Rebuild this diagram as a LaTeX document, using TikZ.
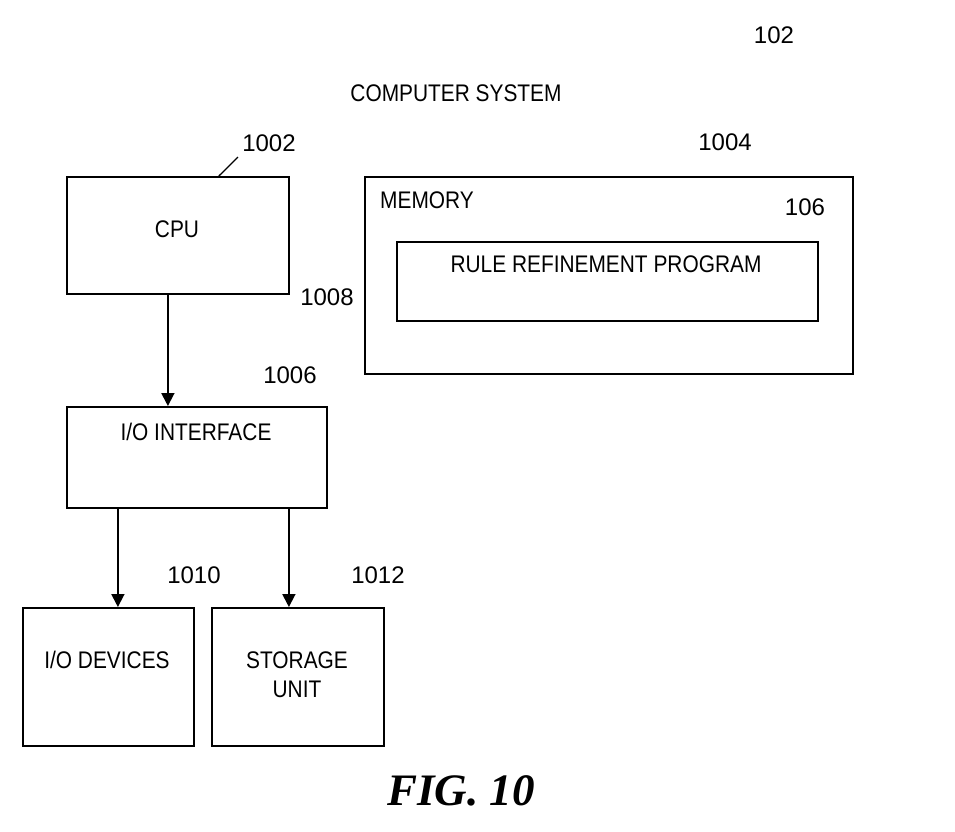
\documentclass[tikz,border=0pt]{standalone}
\usepackage{fontspec}
\setmainfont{Liberation Sans}[FakeStretch=0.87]
\newfontfamily\numfont{Liberation Sans}
\newfontfamily\figfont{Liberation Serif}
\usetikzlibrary{arrows.meta}
\begin{document}
\begin{tikzpicture}[x=1pt,y=-1pt,
  box/.style={draw, line width=1.8pt, rectangle, inner sep=0pt, anchor=north west},
  txt/.style={inner sep=0pt, anchor=base, font=\fontsize{24}{29}\selectfont},
  num/.style={inner sep=0pt, anchor=base, font=\numfont\fontsize{24}{29}\selectfont},
  arr/.style={line width=1.8pt, -{Triangle[length=13pt,width=13pt]}},
  lead/.style={line width=1.3pt}]
\useasboundingbox[fill=white] (0,0) rectangle (955,831);
% boxes
\node[box, minimum width=222pt, minimum height=117pt] (cpu) at (66,176) {};
\node[box, minimum width=488pt, minimum height=197pt] (mem) at (364,176) {};
\node[box, minimum width=421pt, minimum height=79pt] (rrp) at (396,241) {};
\node[box, minimum width=260pt, minimum height=101pt] (iof) at (66,406) {};
\node[box, minimum width=171pt, minimum height=138pt] (dev) at (22,607) {};
\node[box, minimum width=172pt, minimum height=138pt] (sto) at (211,607) {};
% texts
\node[num] (n102) at (774,43) {102};
\node[txt] (title) at (456,101) {COMPUTER SYSTEM};
\node[num] (n1002) at (269,151) {1002};
\node[num] (n1004) at (725,150) {1004};
\node[txt] (tcpu) at (177,237) {CPU};
\node[txt] (tmem) at (427,208) {MEMORY};
\node[num] (n106) at (805,215) {106};
\node[txt] (trrp) at (606,272) {RULE REFINEMENT PROGRAM};
\node[num] (n1008) at (327,305) {1008};
\node[num] (n1006) at (290,383) {1006};
\node[txt] (tiof) at (196,440) {I/O INTERFACE};
\node[num] (n1010) at (194,583) {1010};
\node[num] (n1012) at (378,583) {1012};
\node[txt] (tdev) at (107,668) {I/O DEVICES};
\node[txt, align=center] (tsto) at (297,697) {STORAGE\\UNIT};
\node[inner sep=0pt, anchor=base, font=\figfont\bfseries\itshape\fontsize{45}{54}\selectfont] (fig) at (461,805) {FIG. 10};
% leader
\coordinate (l1002) at (238,157);
\draw[lead] ([xshift=41pt]cpu.north) -- (l1002);
% connectors
\draw[arr] ([xshift=-10pt]cpu.south) -- ([xshift=-10pt]cpu.south |- iof.north);
\draw[arr] ([xshift=9.5pt]dev.north |- iof.south) -- ([xshift=9.5pt]dev.north);
\draw[arr] ([xshift=-9pt]sto.north |- iof.south) -- ([xshift=-9pt]sto.north);
\end{tikzpicture}
\end{document}
